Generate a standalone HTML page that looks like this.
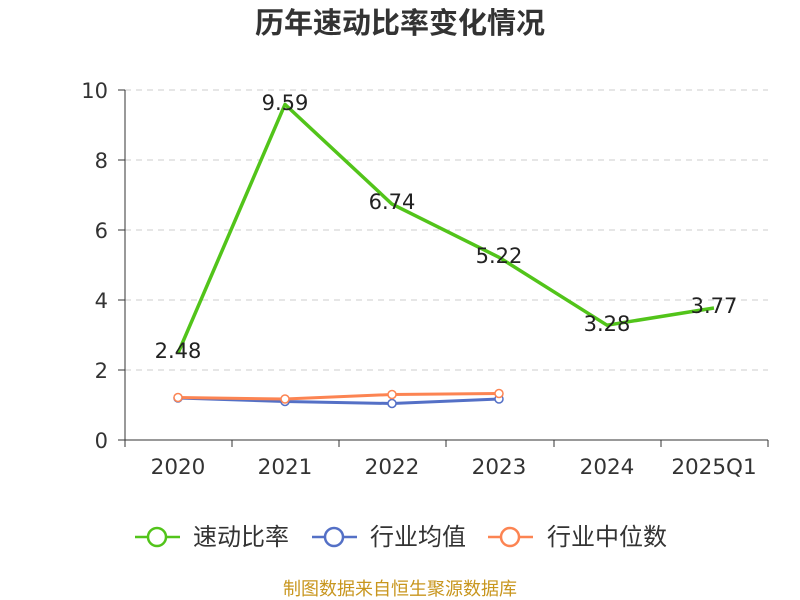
<!DOCTYPE html>
<html><head><meta charset="utf-8"><style>
body{margin:0;background:#fff;}
svg{display:block;font-family:"DejaVu Sans","Noto Sans CJK SC",sans-serif;}
</style></head><body>
<svg width="800" height="600" xmlns="http://www.w3.org/2000/svg">
<text x="400" y="33" text-anchor="middle" font-size="29" font-weight="bold" fill="#333" font-family="'Noto Sans CJK SC',sans-serif">历年速动比率变化情况</text>
<g stroke="#ccc" stroke-dasharray="6,5" stroke-width="1">
<line x1="125" y1="90" x2="768" y2="90"/><line x1="125" y1="160" x2="768" y2="160"/>
<line x1="125" y1="230" x2="768" y2="230"/><line x1="125" y1="300" x2="768" y2="300"/>
<line x1="125" y1="370" x2="768" y2="370"/>
</g>
<g stroke="#333" stroke-width="1">
<line x1="125" y1="90" x2="125" y2="440"/>
<line x1="118" y1="90" x2="125" y2="90"/><line x1="118" y1="160" x2="125" y2="160"/>
<line x1="118" y1="230" x2="125" y2="230"/><line x1="118" y1="300" x2="125" y2="300"/>
<line x1="118" y1="370" x2="125" y2="370"/><line x1="118" y1="440" x2="125" y2="440"/>
<line x1="125" y1="440" x2="768" y2="440"/>
<line x1="125" y1="440" x2="125" y2="447"/><line x1="232" y1="440" x2="232" y2="447"/>
<line x1="339" y1="440" x2="339" y2="447"/><line x1="446" y1="440" x2="446" y2="447"/>
<line x1="554" y1="440" x2="554" y2="447"/><line x1="661" y1="440" x2="661" y2="447"/>
<line x1="768" y1="440" x2="768" y2="447"/>
</g>
<g font-size="21" fill="#333" text-anchor="end">
<text x="108" y="98">10</text><text x="108" y="168">8</text><text x="108" y="238">6</text>
<text x="108" y="308">4</text><text x="108" y="378">2</text><text x="108" y="448">0</text>
</g>
<g font-size="21.5" fill="#333" text-anchor="middle">
<text x="178" y="474">2020</text><text x="285" y="474">2021</text><text x="392" y="474">2022</text>
<text x="499" y="474">2023</text><text x="607" y="474">2024</text><text x="714" y="474">2025Q1</text>
</g>
<polyline fill="none" stroke="#5470c6" stroke-width="3" stroke-linejoin="round" points="178,398 285,401.5 392,403.5 499,399"/>
<polyline fill="none" stroke="#fc8452" stroke-width="3" stroke-linejoin="round" points="178,397.5 285,399 392,394.5 499,393.5"/>
<g fill="#fff" stroke-width="1.5">
<circle cx="178" cy="398" r="4" stroke="#5470c6"/><circle cx="285" cy="401.5" r="4" stroke="#5470c6"/>
<circle cx="392" cy="403.5" r="4" stroke="#5470c6"/><circle cx="499" cy="399" r="4" stroke="#5470c6"/>
<circle cx="178" cy="397.5" r="4" stroke="#fc8452"/><circle cx="285" cy="399" r="4" stroke="#fc8452"/>
<circle cx="392" cy="394.5" r="4" stroke="#fc8452"/><circle cx="499" cy="393.5" r="4" stroke="#fc8452"/>
</g>
<polyline fill="none" stroke="#52c41a" stroke-width="3.5" stroke-linejoin="round" points="178,353.2 285,104.4 392,204.1 499,257.3 607,325.2 714,308"/>
<g font-size="21" fill="#222" text-anchor="middle">
<text x="178" y="358">2.48</text><text x="285" y="110">9.59</text><text x="392" y="209">6.74</text>
<text x="499" y="263">5.22</text><text x="607" y="331">3.28</text><text x="714" y="313">3.77</text>
</g>
<g stroke-width="2.5" fill="#fff">
<line x1="135" y1="537" x2="180" y2="537" stroke="#52c41a"/><circle cx="157" cy="537" r="9" stroke="#52c41a"/>
<line x1="312" y1="537" x2="357" y2="537" stroke="#5470c6"/><circle cx="334" cy="537" r="9" stroke="#5470c6"/>
<line x1="488" y1="537" x2="533" y2="537" stroke="#fc8452"/><circle cx="510" cy="537" r="9" stroke="#fc8452"/>
</g>
<g font-size="24" fill="#333">
<text x="193" y="545">速动比率</text><text x="370" y="545">行业均值</text><text x="547" y="545">行业中位数</text>
</g>
<text x="400" y="595" text-anchor="middle" font-size="18" fill="#c8961e">制图数据来自恒生聚源数据库</text>
</svg>
</body></html>
